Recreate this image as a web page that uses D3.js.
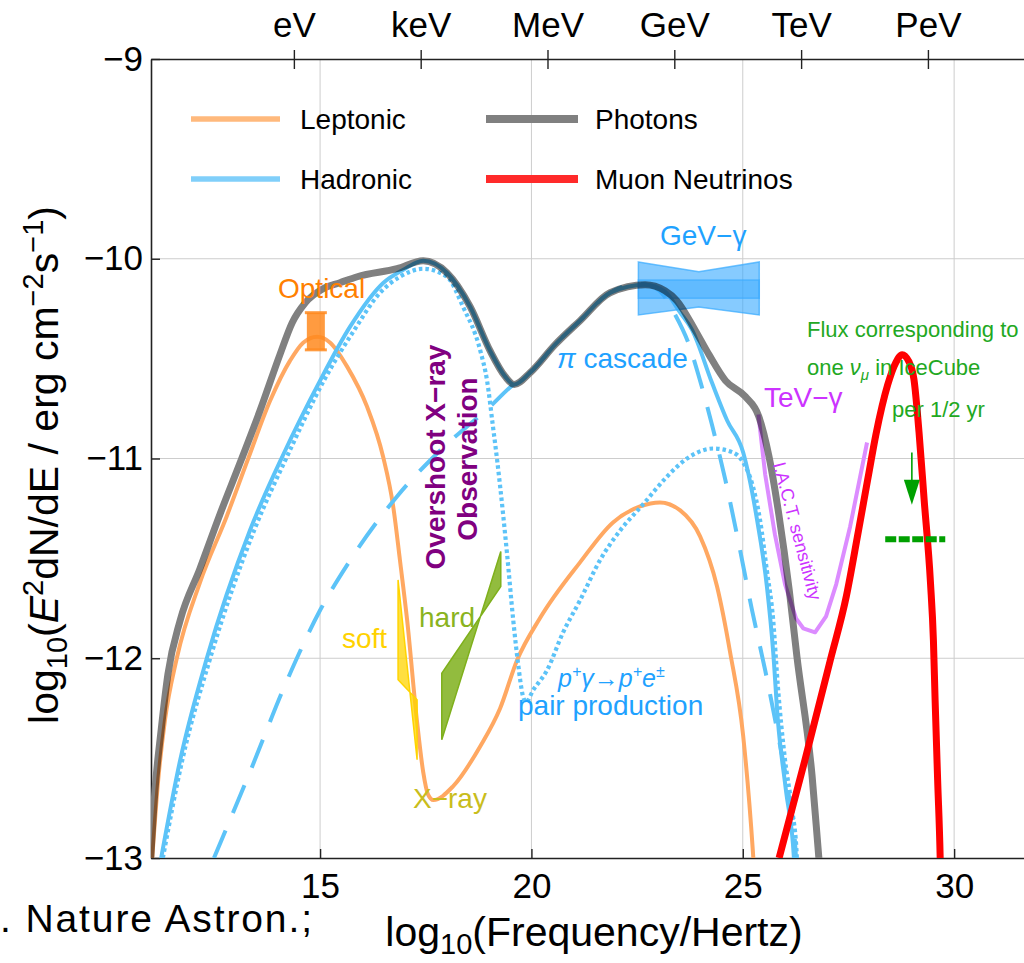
<!DOCTYPE html>
<html>
<head>
<meta charset="utf-8">
<script src="https://cdn.jsdelivr.net/npm/d3@7"></script>
<style>
  html, body { margin: 0; padding: 0; background: #fff; }
  svg { display: block; }
  text { font-family: "Liberation Sans", Arial, sans-serif; }
</style>
</head>
<body>
<div id="chart"></div>
<script>
// ---------- axis ticks ----------
const bottomTicks = [15, 20, 25, 30];
const leftTicks = [-9, -10, -11, -12, -13];
const gridX = [15, 20, 25, 30];
const gridY = [-10, -11, -12];
const energyLabels = ["eV", "keV", "MeV", "GeV", "TeV", "PeV"];
const energyTicks = [14.38, 17.38, 20.38, 23.38, 26.38, 29.38];

// ---------- model curves: [log10 frequency, log10 E^2 dN/dE] ----------
const photons = [[10.98,-13.05],[11.095,-12.66],[11.24,-12.36],[11.40,-12.08],[11.69,-11.81],[12.16,-11.55],
  [12.63,-11.28],[13.11,-11.02],[13.58,-10.76],[14.05,-10.48],[14.34,-10.32],[14.65,-10.22],[15.07,-10.15],
  [15.47,-10.12],[15.88,-10.09],[16.82,-10.05],[17.44,-10.01],[18.0,-10.07],[18.55,-10.24],[19.02,-10.46],
  [19.38,-10.59],[19.59,-10.63],[19.97,-10.57],[20.56,-10.43],[21.15,-10.31],[21.86,-10.17],[22.69,-10.13],
  [23.16,-10.16],[23.44,-10.21],[23.88,-10.36],[24.20,-10.48],[24.59,-10.61],[25.06,-10.69],[25.38,-10.79],
  [25.62,-10.99],[25.86,-11.29],[26.10,-11.66],[26.28,-11.99],[26.64,-12.59],[26.80,-13.0],[26.84,-13.1]];

const leptonic = [[11.03,-13.0],[11.17,-12.61],[11.33,-12.31],[11.61,-12.0],[12.16,-11.62],[12.79,-11.29],
  [13.30,-11.0],[13.82,-10.71],[14.29,-10.51],[14.60,-10.42],[14.93,-10.39],[15.24,-10.42],[15.64,-10.54],
  [16.11,-10.74],[16.49,-10.99],[16.73,-11.24],[16.89,-11.51],[17.06,-11.81],[17.29,-12.31],[17.44,-12.57],
  [17.55,-12.68],[17.68,-12.71],[18.15,-12.64],[18.79,-12.44],[19.26,-12.25],[19.66,-12.01],[20.20,-11.80],
  [21.15,-11.52],[21.93,-11.32],[22.57,-11.24],[23.04,-11.22],[23.52,-11.26],[23.99,-11.39],[24.39,-11.64],
  [24.70,-11.97],[25.01,-12.39],[25.24,-12.97],[25.28,-13.1]];

const hadronic = [[11.24,-13.0],[11.69,-12.51],[12.32,-12.0],[13.34,-11.36],[14.13,-10.98],[15.0,-10.61],
  [15.71,-10.34],[16.50,-10.12],[16.96,-10.056],[17.44,-10.01],[18.0,-10.07],[18.55,-10.24],[19.02,-10.46],
  [19.38,-10.59],[19.59,-10.63],[19.97,-10.57],[20.56,-10.43],[21.15,-10.31],[21.86,-10.17],[22.69,-10.13],
  [23.16,-10.165],[23.52,-10.27],[23.80,-10.356],[24.27,-10.62],[24.63,-10.81],[25.01,-10.97],[25.34,-11.31],
  [25.57,-11.64],[25.72,-11.97],[25.83,-12.31],[26.02,-12.66],[26.21,-13.0],[26.23,-13.1]];

const pairSynchrotron = [[11.28,-13.0],[11.74,-12.51],[12.40,-12.0],[13.44,-11.36],[14.24,-10.98],[15.09,-10.61],
  [15.80,-10.36],[16.42,-10.17],[16.89,-10.09],[17.44,-10.05],[18.0,-10.09],[18.38,-10.24],[18.79,-10.46],
  [18.95,-10.61],[19.09,-10.84],[19.19,-11.01],[19.26,-11.14],[19.42,-11.47],[19.57,-11.81],[19.68,-12.02],
  [19.80,-12.19],[19.87,-12.22],[20.04,-12.16],[20.37,-12.06],[20.75,-11.87],[21.15,-11.71],[21.62,-11.51],
  [22.10,-11.36],[22.64,-11.23],[23.21,-11.09],[23.68,-11.0],[24.30,-10.95],[24.77,-10.97],[25.01,-11.02],
  [25.24,-11.14],[25.41,-11.31],[25.57,-11.56],[25.72,-11.81],[25.83,-12.14],[26.0,-12.51],[26.17,-12.76],
  [26.28,-13.0],[26.30,-13.1]];

const piCascade = [[12.49,-13.0],[13.34,-12.57],[14.22,-12.11],[15.0,-11.76],[15.71,-11.51],[16.82,-11.19],
  [17.84,-10.96],[19.02,-10.74],[19.57,-10.63],[19.97,-10.57],[20.56,-10.43],[21.15,-10.31],[21.86,-10.17],
  [22.57,-10.125],[23.0,-10.156],[23.40,-10.28],[23.71,-10.42],[23.99,-10.61],[24.27,-10.83],[24.58,-11.10],
  [24.89,-11.41],[25.22,-11.76],[25.53,-12.06],[25.83,-12.38],[26.07,-12.66],[26.26,-13.0],[26.28,-13.1]];

const muonNeutrinos = [[25.86,-13.0],[26.47,-12.51],[27.07,-12.01],[27.45,-11.69],[27.73,-11.37],[27.96,-11.10],
  [28.15,-10.88],[28.43,-10.63],[28.62,-10.52],[28.77,-10.48],[28.93,-10.515],[29.05,-10.605],[29.17,-10.87],
  [29.29,-11.205],[29.44,-11.62],[29.51,-11.91],[29.55,-12.21],[29.61,-12.61],[29.67,-13.0],[29.68,-13.1]];

const iactSensitivity = [[25.37,-10.78],[25.53,-11.08],[25.76,-11.38],[26.0,-11.63],[26.26,-11.80],[26.43,-11.85],
  [26.71,-11.87],[26.97,-11.79],[27.21,-11.63],[27.54,-11.34],[27.94,-10.92]];

// ---------- observations ----------
const opticalX = 14.9;
const opticalRange = [-10.456, -10.27];

const softX = [16.845, 17.295];
const softLineA = [-11.608, -12.508];
const softLineB = [-12.108, -12.208];

const hardX = [17.879, 19.275];
const hardLineA = [-12.408, -11.466];
const hardLineB = [-12.075, -11.641];

const gevX = [22.53, 23.96, 25.39];
const gevOuterTop = [-10.016, -10.065, -10.016];
const gevOuterBottom = [-10.281, -10.241, -10.281];
const gevInnerTop = [-10.106, -10.106, -10.106];
const gevInnerBottom = [-10.198, -10.198, -10.198];

// IceCube single-event flux level
const icecubeArrowX = 29.0;
const icecubeArrowY = [-10.97, -11.232];
const icecubeLevelX = [28.37, 29.79];
const icecubeLevelY = -11.404;

// ---------- layout ----------
const W = 1024, H = 963;
const x = d3.scaleLinear().domain([11, 32]).range([151, 151 + 21 * 42.27]);
const y = d3.scaleLinear().domain([-13, -9]).range([858, 59]);

const svg = d3.select("#chart").append("svg").attr("width", W).attr("height", H);
svg.append("rect").attr("width", W).attr("height", H).attr("fill", "#fff");

svg.append("defs").append("clipPath").attr("id", "plot-clip").append("rect")
  .attr("x", x(11)).attr("y", y(-9))
  .attr("width", x(32) - x(11)).attr("height", y(-13) - y(-9));

// grid
const grid = svg.append("g").attr("stroke", "#cdcdcd").attr("stroke-width", 1);
grid.selectAll("line.gx").data(gridX).join("line").attr("class", "gx")
  .attr("x1", d => x(d)).attr("x2", d => x(d)).attr("y1", y(-9)).attr("y2", y(-13));
grid.selectAll("line.gy").data(gridY).join("line").attr("class", "gy")
  .attr("x1", x(11)).attr("x2", x(32)).attr("y1", d => y(d)).attr("y2", d => y(d));

// axes
function styleAxis(g) {
  g.attr("font-family", "'Liberation Sans', Arial, sans-serif").attr("font-size", 35);
  g.selectAll("path.domain").attr("stroke", "#222").attr("stroke-width", 1.6);
  g.selectAll(".tick line").attr("stroke", "#222").attr("stroke-width", 1.4);
  g.selectAll(".tick text").attr("fill", "#000");
}
svg.append("g").attr("transform", `translate(${x(11)},0)`)
  .call(d3.axisLeft(y).tickValues(leftTicks).tickFormat(d3.format("d"))
    .tickSizeInner(-9).tickSizeOuter(0).tickPadding(8))
  .call(styleAxis);
svg.append("g").attr("transform", `translate(0,${y(-13)})`)
  .call(d3.axisBottom(x).tickValues(bottomTicks).tickFormat(d3.format("d"))
    .tickSizeInner(-9).tickSizeOuter(0).tickPadding(15))
  .call(styleAxis);
const topAxis = svg.append("g").attr("transform", `translate(0,${y(-9)})`)
  .call(d3.axisTop(x).tickValues(energyTicks).tickFormat((d, i) => energyLabels[i])
    .tickSizeInner(9).tickSizeOuter(0).tickPadding(13))
  .call(styleAxis);
topAxis.selectAll(".tick").append("line").attr("y1", 0).attr("y2", 10)
  .attr("stroke", "#222").attr("stroke-width", 1.4);

// ---------- curves ----------
const smooth = d3.line().x(d => x(d[0])).y(d => y(d[1])).curve(d3.curveMonotoneX);
const straight = d3.line().x(d => x(d[0])).y(d => y(d[1]));
const plot = svg.append("g").attr("clip-path", "url(#plot-clip)");

const blue = "#5cc3f8";
plot.append("path").attr("d", smooth(leptonic)).attr("fill", "none")
  .attr("stroke", "#ffa862").attr("stroke-width", 4);
plot.append("path").attr("d", smooth(piCascade)).attr("fill", "none")
  .attr("stroke", blue).attr("stroke-width", 4).attr("stroke-dasharray", "30,19");
plot.append("path").attr("d", smooth(pairSynchrotron)).attr("fill", "none")
  .attr("stroke", blue).attr("stroke-width", 4.2).attr("stroke-dasharray", "3.5,3");
plot.append("path").attr("d", smooth(hadronic)).attr("fill", "none")
  .attr("stroke", blue).attr("stroke-width", 4);

// IACT sensitivity
plot.append("path").attr("d", straight(iactSensitivity)).attr("fill", "none")
  .attr("stroke", "#dc8cff").attr("stroke-width", 4).attr("stroke-linejoin", "round");

// GeV gamma butterfly
function band(xs, top, bottom) {
  const pts = xs.map((v, i) => [v, top[i]]).concat(xs.map((v, i) => [v, bottom[i]]).reverse());
  return straight(pts) + "Z";
}
plot.append("path").attr("d", band(gevX, gevOuterTop, gevOuterBottom))
  .attr("fill", "#35a9ff").attr("fill-opacity", 0.6)
  .attr("stroke", "#35a9ff").attr("stroke-opacity", 0.7).attr("stroke-width", 1.5);
plot.append("path").attr("d", band(gevX, gevInnerTop, gevInnerBottom))
  .attr("fill", "#35a9ff").attr("fill-opacity", 0.45)
  .attr("stroke", "#35a9ff").attr("stroke-opacity", 0.6).attr("stroke-width", 1.5);

// X-ray butterflies
function butterfly(xs, a, b) {
  return straight([[xs[0], a[0]], [xs[1], a[1]], [xs[1], b[1]], [xs[0], b[0]]]) + "Z";
}
plot.append("path").attr("d", butterfly(softX, softLineA, softLineB))
  .attr("fill", "#ffd400").attr("fill-opacity", 0.75)
  .attr("stroke", "#ffd400").attr("stroke-width", 1.5);
plot.append("path").attr("d", butterfly(hardX, hardLineA, hardLineB))
  .attr("fill", "#7fb01c").attr("fill-opacity", 0.85)
  .attr("stroke", "#7fb01c").attr("stroke-width", 1.5);

// optical point
plot.append("rect")
  .attr("x", x(opticalX) - 9).attr("width", 18)
  .attr("y", y(opticalRange[1])).attr("height", y(opticalRange[0]) - y(opticalRange[1]))
  .attr("fill", "#ff8a1f").attr("fill-opacity", 0.85);
plot.selectAll("line.cap").data(opticalRange).join("line").attr("class", "cap")
  .attr("x1", x(opticalX) - 11).attr("x2", x(opticalX) + 11)
  .attr("y1", d => y(d)).attr("y2", d => y(d))
  .attr("stroke", "#ff8a1f").attr("stroke-opacity", 0.85).attr("stroke-width", 3);

// photons (multiplied over the components below)
plot.append("path").attr("d", smooth(photons)).attr("fill", "none")
  .attr("stroke", "#808080").attr("stroke-width", 7)
  .style("mix-blend-mode", "multiply");

// muon neutrinos
plot.append("path").attr("d", smooth(muonNeutrinos)).attr("fill", "none")
  .attr("stroke", "#ff0000").attr("stroke-width", 7);

// IceCube arrow and level
const green = "#00a000";
plot.append("line")
  .attr("x1", x(icecubeArrowX)).attr("x2", x(icecubeArrowX))
  .attr("y1", y(icecubeArrowY[0])).attr("y2", y(icecubeArrowY[1]) - 20)
  .attr("stroke", green).attr("stroke-width", 1.6);
plot.append("path")
  .attr("d", `M${x(icecubeArrowX) - 8},${y(icecubeArrowY[1]) - 25} L${x(icecubeArrowX) + 8},${y(icecubeArrowY[1]) - 25} L${x(icecubeArrowX)},${y(icecubeArrowY[1])} Z`)
  .attr("fill", green);
plot.append("line")
  .attr("x1", x(icecubeLevelX[0])).attr("x2", x(icecubeLevelX[1]))
  .attr("y1", y(icecubeLevelY)).attr("y2", y(icecubeLevelY))
  .attr("stroke", green).attr("stroke-width", 6).attr("stroke-dasharray", "11,2.5");

// ---------- legend ----------
const legend = svg.append("g");
const legendItems = [
  { label: "Leptonic", color: "#ffb97c", w: 5.5, x0: 191, x1: 280, yy: 119, tx: 300 },
  { label: "Hadronic", color: "#80cffa", w: 5.5, x0: 191, x1: 280, yy: 179, tx: 300 },
  { label: "Photons", color: "#808080", w: 8, x0: 486, x1: 578, yy: 119, tx: 595 },
  { label: "Muon Neutrinos", color: "#ff2a2a", w: 8, x0: 486, x1: 578, yy: 179, tx: 595 }
];
legendItems.forEach(it => {
  legend.append("line").attr("x1", it.x0).attr("x2", it.x1).attr("y1", it.yy).attr("y2", it.yy)
    .attr("stroke", it.color).attr("stroke-width", it.w);
  legend.append("text").attr("x", it.tx).attr("y", it.yy + 10).attr("font-size", 28)
    .attr("fill", "#000").text(it.label);
});

// ---------- annotations ----------
function label(tx, ty, txt, color, size) {
  return svg.append("text").attr("x", tx).attr("y", ty).attr("fill", color)
    .attr("font-size", size || 28).text(txt);
}
label(278, 298, "Optical", "#ff8000");
label(660, 245, "GeV\u2212\u03b3", "#1fa2ff");
const pc = svg.append("text").attr("x", 557).attr("y", 368).attr("fill", "#1fa2ff").attr("font-size", 28);
pc.append("tspan").attr("font-style", "italic").text("\u03c0");
pc.append("tspan").text(" cascade");
label(764, 407, "TeV\u2212\u03b3", "#cc33ff");
label(342, 648, "soft", "#ffd200");
label(419, 627, "hard", "#8ab320");
label(413, 808, "X\u2212ray", "#c9bd1c");

const pg = svg.append("text").attr("x", 558).attr("y", 687).attr("fill", "#1fa2ff")
  .attr("font-size", 25).attr("font-style", "italic");
pg.append("tspan").text("p");
pg.append("tspan").attr("font-size", 16).attr("dy", -10).text("+");
pg.append("tspan").attr("dy", 10).text("\u03b3");
pg.append("tspan").attr("font-style", "normal").text("\u2192");
pg.append("tspan").text("p");
pg.append("tspan").attr("font-size", 16).attr("dy", -10).text("+");
pg.append("tspan").attr("dy", 10).text("e");
pg.append("tspan").attr("font-size", 16).attr("dy", -10).text("\u00b1");
label(518, 715, "pair production", "#1fa2ff");

svg.append("text").attr("transform", "translate(445,457) rotate(-90)")
  .attr("text-anchor", "middle").attr("font-size", 28).attr("font-weight", "bold")
  .attr("fill", "#800080").text("Overshoot X\u2212ray");
svg.append("text").attr("transform", "translate(477,459) rotate(-90)")
  .attr("text-anchor", "middle").attr("font-size", 28).attr("font-weight", "bold")
  .attr("fill", "#800080").text("Observation");

svg.append("text").attr("transform", "translate(773,464) rotate(75)")
  .attr("font-size", 18).attr("fill", "#cc33ff").text("I.A.C.T. sensitivity");

const greenText = "#22a822";
label(807, 337, "Flux corresponding to", greenText, 22);
const nu = svg.append("text").attr("x", 807).attr("y", 375).attr("fill", greenText).attr("font-size", 22);
nu.append("tspan").text("one ");
nu.append("tspan").attr("font-style", "italic").text("\u03bd");
nu.append("tspan").attr("font-style", "italic").attr("font-size", 15).attr("dy", 5).text("\u03bc");
nu.append("tspan").attr("dy", -5).text(" in IceCube");
label(892, 417, "per 1/2 yr", greenText, 22);

// ---------- axis titles ----------
const xt = svg.append("text").attr("x", 594).attr("y", 946).attr("text-anchor", "middle")
  .attr("font-size", 41).attr("fill", "#000");
xt.append("tspan").text("log");
xt.append("tspan").attr("font-size", 29).attr("dy", 8).text("10");
xt.append("tspan").attr("dy", -8).text("(Frequency/Hertz)");

const yt = svg.append("text").attr("transform", "translate(58,465) rotate(-90)")
  .attr("text-anchor", "middle").attr("font-size", 41).attr("fill", "#000");
yt.append("tspan").text("log");
yt.append("tspan").attr("font-size", 29).attr("dy", 9).text("10");
yt.append("tspan").attr("dy", -9).text("(");
yt.append("tspan").attr("font-style", "italic").text("E");
yt.append("tspan").attr("font-size", 29).attr("dy", -15).text("2");
yt.append("tspan").attr("dy", 15).text("dN/dE / erg cm");
yt.append("tspan").attr("font-size", 29).attr("dy", -15).text("\u22122");
yt.append("tspan").attr("dy", 15).text("s");
yt.append("tspan").attr("font-size", 29).attr("dy", -15).text("\u22121");
yt.append("tspan").attr("dy", 15).text(")");

// citation fragment
svg.append("text").attr("x", 0).attr("y", 932).attr("font-size", 39)
  .attr("font-family", "Lato, 'Open Sans', sans-serif").attr("fill", "#000")
  .attr("textLength", 312).attr("lengthAdjust", "spacing")
  .text(". Nature Astron.;");
</script>
</body>
</html>
